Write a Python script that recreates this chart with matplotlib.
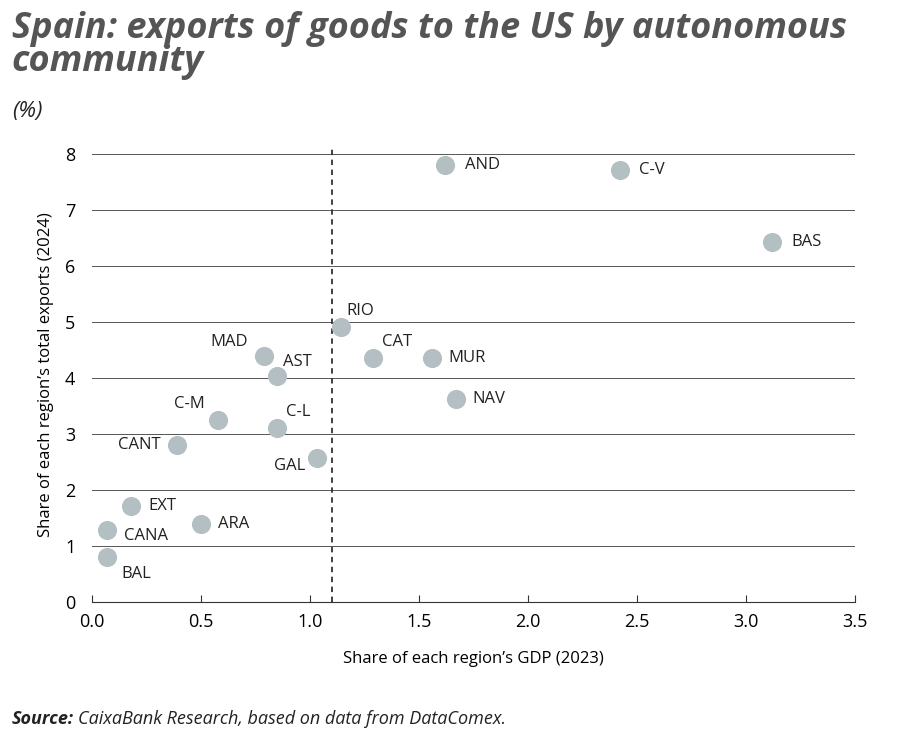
import matplotlib.pyplot as plt

plt.rcParams['font.family'] = ['Open Sans', 'DejaVu Sans']

regions = ['AND', 'C-V', 'BAS', 'RIO', 'CAT', 'MUR', 'NAV', 'MAD', 'AST',
           'C-M', 'C-L', 'CANT', 'GAL', 'EXT', 'CANA', 'ARA', 'BAL']
gdp_share = [1.62, 2.42, 3.12, 1.14, 1.29, 1.56, 1.67, 0.79, 0.85,
             0.58, 0.85, 0.39, 1.03, 0.18, 0.07, 0.50, 0.07]
export_share = [7.80, 7.70, 6.42, 4.90, 4.35, 4.36, 3.62, 4.39, 4.04,
                3.24, 3.10, 2.80, 2.57, 1.72, 1.28, 1.40, 0.80]
# label offsets in points (dx, dy, ha)
offsets = {
    'AND': (14, 0, 'left'), 'C-V': (14, 0, 'left'), 'BAS': (14, 0, 'left'),
    'RIO': (4, 12, 'left'), 'CAT': (6, 12, 'left'), 'MUR': (12, 0, 'left'),
    'NAV': (12, 0, 'left'), 'MAD': (-12, 10, 'right'), 'AST': (4, 10, 'left'),
    'C-M': (-10, 12, 'right'), 'C-L': (6, 12, 'left'), 'CANT': (-12, 0, 'right'),
    'GAL': (-8, -6, 'right'), 'EXT': (12, 0, 'left'), 'CANA': (12, -4, 'left'),
    'ARA': (12, 0, 'left'), 'BAL': (10, -12, 'left'),
}

fig = plt.figure(figsize=(9, 7.4), dpi=100)
ax = fig.add_axes([92 / 900, 1 - 602 / 740, (855 - 92) / 900, (602 - 148) / 740])

ax.scatter(gdp_share, export_share, s=190, color='#b4bfc3', zorder=3, linewidths=0)
for name, x, y in zip(regions, gdp_share, export_share):
    dx, dy, ha = offsets[name]
    ax.annotate(name, (x, y), xytext=(dx, dy), textcoords='offset points',
                ha=ha, va='center', fontsize=12, color='#222222')

ax.axvline(1.1, color='#333333', linestyle=(0, (3, 2.5)), linewidth=1.3, zorder=2)

ax.set_xlim(0, 3.5)
ax.set_ylim(0, 8.1)
ax.set_xticks([0, 0.5, 1, 1.5, 2, 2.5, 3, 3.5])
ax.set_xticklabels(['0.0', '0.5', '1.0', '1.5', '2.0', '2.5', '3.0', '3.5'])
ax.set_yticks(range(0, 9))
ax.grid(axis='y', color='#555555', linewidth=0.7)
ax.set_axisbelow(True)
for s in ['top', 'right', 'left']:
    ax.spines[s].set_visible(False)
ax.spines['bottom'].set_color('#333333')
ax.tick_params(axis='y', length=0, labelsize=13, pad=12)
ax.tick_params(axis='x', length=5, direction='in', labelsize=13, pad=8, color='#333333')
ax.set_xlabel('Share of each region\u2019s GDP (2023)', fontsize=12, labelpad=14)
ax.set_ylabel('Share of each region\u2019s total exports (2024)', fontsize=12, labelpad=8)

fig.text(0.013, 0.985, 'Spain: exports of goods to the US by autonomous\ncommunity',
         fontsize=26, fontweight='bold', style='italic', color='#555555',
         va='top', linespacing=0.9)
fig.text(0.013, 0.85, '(%)', fontsize=16, style='italic', color='#222222', va='center')
fig.text(0.013, 0.028, 'Source:', fontsize=13, fontweight='bold', style='italic',
         color='#222222', va='center')
fig.text(0.087, 0.028, 'CaixaBank Research, based on data from DataComex.',
         fontsize=13, style='italic', color='#222222', va='center')

fig.savefig('out.png', dpi=100)
